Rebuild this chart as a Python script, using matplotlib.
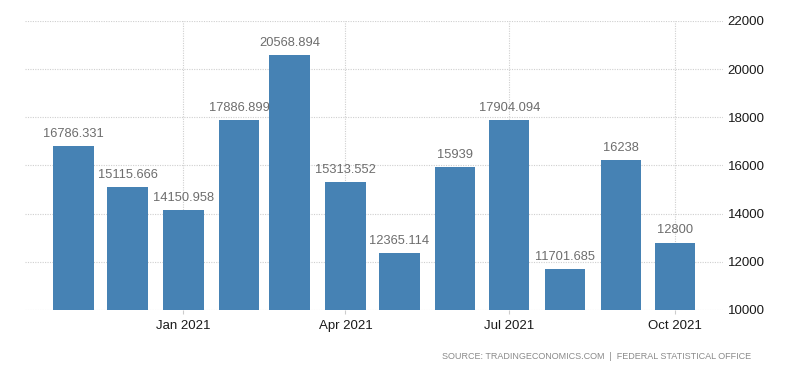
import matplotlib
matplotlib.use("Agg")
import matplotlib.pyplot as plt
import matplotlib.dates as mdates
import datetime as dt

months = ["2020-11", "2020-12", "2021-01", "2021-02", "2021-03", "2021-04",
          "2021-05", "2021-06", "2021-07", "2021-08", "2021-09", "2021-10"]
values = [16786.331, 15115.666, 14150.958, 17886.899, 20568.894, 15313.552,
          12365.114, 15939, 17904.094, 11701.685, 16238, 12800]
labels = ["16786.331", "15115.666", "14150.958", "17886.899", "20568.894", "15313.552",
          "12365.114", "15939", "17904.094", "11701.685", "16238", "12800"]
xtick_dates = ["2021-01", "2021-04", "2021-07", "2021-10"]
xtick_labels = ["Jan 2021", "Apr 2021", "Jul 2021", "Oct 2021"]
yticks = [10000, 12000, 14000, 16000, 18000, 20000, 22000]
source = "SOURCE: TRADINGECONOMICS.COM  |  FEDERAL STATISTICAL OFFICE"

plt.rcParams['font.family'] = ['Liberation Sans', 'DejaVu Sans']

dates = [dt.datetime.strptime(m, "%Y-%m") for m in months]
x = mdates.date2num(dates)

fig = plt.figure(figsize=(8, 3.73), dpi=100)
ax = fig.add_axes([0.03125, 0.169, 0.873, 0.775])

ax.bar(x, values, width=22.5, color="#4682b4", zorder=3)
for xi, v, lab in zip(x, values, labels):
    ax.text(xi, v + 250, lab, ha="center", va="bottom", fontsize=9.3,
            color="#6d6d6d", zorder=4)

ax.set_ylim(10000, 22000)
ax.set_xlim(mdates.date2num(dt.datetime(2020, 10, 5)),
            mdates.date2num(dt.datetime(2021, 10, 28)))

xt = [mdates.date2num(dt.datetime.strptime(d, "%Y-%m")) for d in xtick_dates]
ax.set_xticks(xt)
ax.set_xticklabels(xtick_labels, fontsize=9.5, color="#1a1a1a")
ax.set_yticks(yticks)
ax.set_yticklabels([str(t) for t in yticks], fontsize=9.5, color="#1a1a1a")
ax.yaxis.tick_right()
ax.tick_params(axis="y", length=0, pad=3)
ax.tick_params(axis="x", length=3, color="#cccccc", pad=4)

ax.grid(True, linestyle=(0, (1, 1.2)), color="#cfcfcf", linewidth=0.8, zorder=0)
for s in ax.spines.values():
    s.set_visible(False)

fig.text(0.939, 0.032, source, ha="right", va="bottom", fontsize=6.5,
         color="#8a8a8a")

fig.savefig("out.png", dpi=100)
